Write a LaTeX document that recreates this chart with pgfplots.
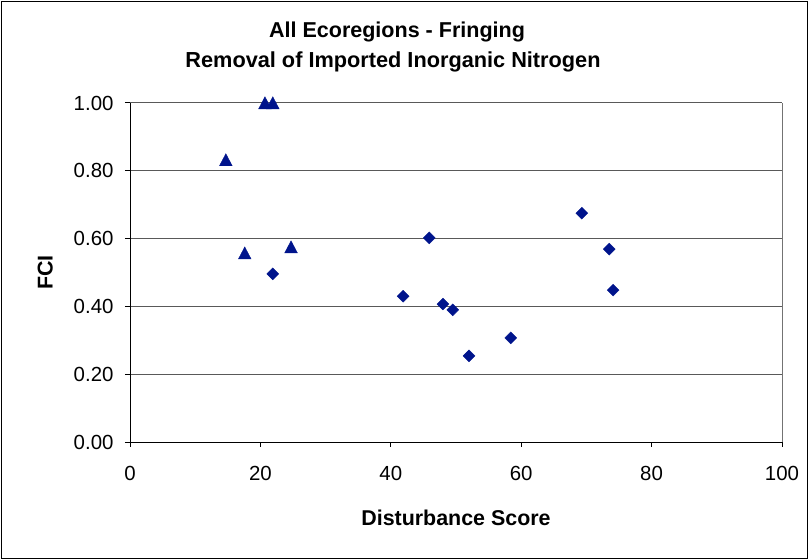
\documentclass[border=0pt]{standalone}
\usepackage{pgfplots}
\pgfplotsset{compat=1.18}
\usepackage{fontspec}
\setmainfont{Liberation Sans}
\definecolor{navy}{RGB}{0,20,140}
\begin{document}
\begin{tikzpicture}
\useasboundingbox (0,0) rectangle (809bp,560bp);
\draw[line width=1.2bp] (1.5bp,1.5bp) rectangle (807.5bp,558.5bp);
\node[font=\fontsize{21.6}{26}\selectfont\bfseries] at (397bp,528bp) {All Ecoregions - Fringing};
\node[font=\fontsize{21.8}{26}\selectfont\bfseries] at (393bp,498bp) {Removal of Imported Inorganic Nitrogen};
\begin{axis}[
  at={(130bp,118bp)}, anchor=south west,
  scale only axis, width=652bp, height=339bp,
  xmin=0, xmax=100, ymin=0, ymax=1,
  xtick={0,20,40,60,80,100},
  ytick={0,0.2,0.4,0.6,0.8,1.0},
  axis x line*=bottom, axis y line*=left,
  axis line style={black, line width=1bp},
  tick align=outside, major tick length=5bp,
  tick style={black, line width=1bp},
  ymajorgrids, grid style={black!65, line width=1bp},
  /pgf/number format/assume math mode=true,
  yticklabel style={/pgf/number format/fixed, /pgf/number format/fixed zerofill, /pgf/number format/precision=2, xshift=-8bp},
  ticklabel style={font=\fontsize{20.5}{24}\selectfont},
  xticklabel style={yshift=-16bp},
  xlabel={Disturbance Score}, ylabel={FCI},
  label style={font=\fontsize{21.5}{25}\selectfont\bfseries},
  x label style={at={(axis description cs:0.5,-0.224)}, anchor=center},
  y label style={at={(axis description cs:-0.130,0.5)}, anchor=center},
  clip=false,
]
\draw[black!55, line width=1bp] (rel axis cs:1,0) -- (rel axis cs:1,1);
\addplot[only marks, mark=triangle*, mark size=7.3bp, color=navy,
  mark options={yshift=-1.8bp, fill=navy, yscale=1.1}] coordinates {
  (14.7,0.832) (20.7,1.00) (21.9,1.00) (17.6,0.557) (24.7,0.575)
};
\addplot[only marks, mark=square*, mark size=4.2bp, color=navy,
  mark options={rotate=45, fill=navy}] coordinates {
  (21.9,0.496) (41.9,0.430) (45.9,0.602) (48.0,0.407) (49.5,0.390)
  (52.0,0.254) (58.4,0.307) (69.3,0.675) (73.5,0.569) (74.1,0.448)
};
\end{axis}
\end{tikzpicture}
\end{document}
